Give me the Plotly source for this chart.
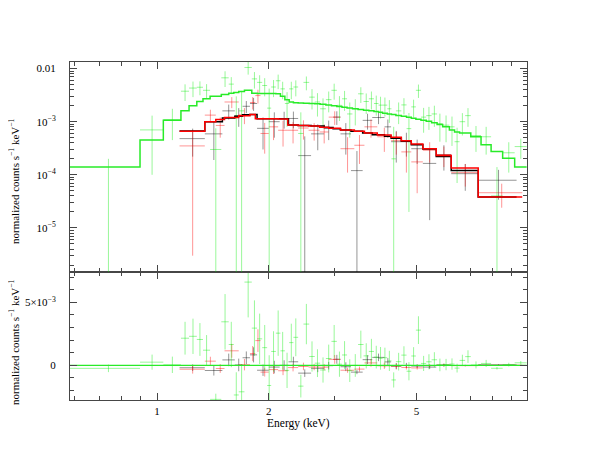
import numpy as np
import plotly.graph_objects as go

# green data set: bin edges (keV), counts, 1-sigma errors and folded model
green_edges = [0.58, 0.90, 1.04, 1.16, 1.22, 1.28, 1.33, 1.39, 1.49, 1.56, 1.61, 1.66, 1.72, 1.80,
               1.86, 1.92, 1.98, 2.03, 2.09, 2.15, 2.21, 2.27, 2.33, 2.40, 2.48, 2.57, 2.66, 2.75,
               2.85, 2.95, 3.05, 3.15, 3.25, 3.36, 3.48, 3.60, 3.72, 3.84, 3.95, 4.05, 4.17, 4.28,
               4.40, 4.55, 4.70, 4.84, 4.98, 5.14, 5.31, 5.49, 5.68, 5.88, 6.13, 6.33, 6.53, 6.76,
               7.00, 7.46, 7.94, 8.53, 9.19, 9.90]
green_y = [-1.0e-4, 7.0e-4, 1.1e-3, 3.75e-3, 4.3e-3, 4.45e-3, 3.9e-3, 3.0e-4, 6.7e-3, 5.1e-3,
           1.2e-3, 1.6e-3, 1.05e-2, 6.4e-3, 5.5e-3, 4.8e-3, 1.8e-3, 4.5e-3, 5.9e-3, 4.15e-3,
           2.2e-3, 4.15e-3, 4.5e-3, 6.0e-4, 5.5e-3, 2.9e-3, 2.35e-3, 1.75e-3, 2.6e-3, 3.9e-3,
           2.03e-3, 2.7e-3, 1.4e-3, 1.75e-3, 3.35e-3, 2.4e-3, 2.7e-3, 2.2e-3, 2.05e-3, 2.05e-3,
           1.75e-3, 2.0e-4, 1.6e-3, 2.07e-3, 7.4e-4, 1.9e-3, 3.9e-3, 1.22e-3, 1.3e-3, 1.4e-3,
           9.2e-4, 8.6e-4, 8.0e-4, 4.2e-4, 1.0e-3, 1.3e-3, 5.5e-4, 5.2e-4, 4.0e-5, 2.6e-4, 3.4e-4]
green_err = [3.0e-4, 6.0e-4, 6.5e-4, 1.3e-3, 1.4e-3, 1.3e-3, 1.2e-3, 4.5e-4, 2.2e-3, 1.8e-3,
             1.8e-3, 2.2e-3, 2.8e-3, 2.2e-3, 2.0e-3, 1.8e-3, 2.4e-3, 1.6e-3, 1.8e-3, 1.5e-3,
             1.4e-3, 1.5e-3, 1.5e-3, 9.0e-4, 1.6e-3, 1.2e-3, 1.1e-3, 1.0e-3, 1.1e-3, 1.3e-3,
             1.0e-3, 1.1e-3, 9.0e-4, 9.0e-4, 1.1e-3, 1.0e-3, 1.0e-3, 9.0e-4, 9.0e-4, 8.0e-4,
             8.0e-4, 6.0e-4, 7.0e-4, 7.0e-4, 7.2e-4, 7.0e-4, 1.1e-3, 6.0e-4, 6.0e-4, 6.0e-4,
             5.0e-4, 4.5e-4, 4.5e-4, 3.5e-4, 4.5e-4, 5.0e-4, 2.8e-4, 2.8e-4, 1.0e-4, 1.5e-4, 1.4e-4]
green_model = [1.4e-4, 4.5e-4, 1.06e-3, 1.6e-3, 2.0e-3, 2.4e-3, 2.7e-3, 3.0e-3, 3.25e-3, 3.45e-3,
               3.55e-3, 3.7e-3, 3.9e-3, 3.45e-3, 3.4e-3, 3.4e-3, 3.4e-3, 3.4e-3, 3.35e-3, 3.0e-3,
               2.6e-3, 2.35e-3, 2.28e-3, 2.25e-3, 2.23e-3, 2.2e-3, 2.18e-3, 2.12e-3, 2.06e-3, 2.0e-3,
               1.94e-3, 1.88e-3, 1.82e-3, 1.76e-3, 1.70e-3, 1.65e-3, 1.6e-3, 1.55e-3, 1.5e-3, 1.45e-3,
               1.4e-3, 1.36e-3, 1.31e-3, 1.26e-3, 1.21e-3, 1.16e-3, 1.11e-3, 1.07e-3, 1.02e-3, 9.6e-4,
               8.9e-4, 8.0e-4, 7.0e-4, 6.4e-4, 6.1e-4, 6.1e-4, 5.2e-4, 3.7e-4, 2.75e-4, 2.05e-4, 1.4e-4]

# black data set
black_edges = [1.15, 1.345, 1.50, 1.62, 1.70, 1.78, 1.86, 2.00, 2.14, 2.26, 2.40, 2.60, 2.82, 2.98,
               3.12, 3.33, 3.58, 3.80, 4.10, 4.27, 4.55, 4.84, 5.20, 5.65, 6.20, 7.33, 9.30]
black_y = [4.8e-4, 5.9e-4, 1.6e-3, 1.3e-3, 1.95e-3, 2.2e-3, 7.5e-4, 1.0e-3, 1.14e-3, 1.15e-3,
           2.3e-4, 5.9e-4, 7.5e-4, 1.22e-3, 5.9e-4, 1.2e-4, 1.06e-3, 1.2e-3, 8.0e-4, 4.2e-4,
           4.2e-4, 3.1e-4, 1.64e-4, 2.4e-4, 1.05e-4, 7.9e-5]
black_err = [2.6e-4, 4.0e-4, 5.0e-4, 5.0e-4, 5.0e-4, 6.0e-4, 4.5e-4, 5.0e-4, 4.0e-4, 4.0e-4,
             3.0e-4, 3.0e-4, 3.0e-4, 3.5e-4, 3.5e-4, 1.6e-4, 3.5e-4, 3.0e-4, 3.0e-4, 2.5e-4,
             2.0e-4, 1.5e-4, 1.5e-4, 1.2e-4, 5.5e-5, 4.5e-5]
black_model = [6.7e-4, 1.0e-3, 1.17e-3, 1.27e-3, 1.35e-3, 1.37e-3, 1.14e-3, 1.14e-3, 1.14e-3, 8.7e-4,
               8.5e-4, 8.3e-4, 7.8e-4, 7.4e-4, 7.0e-4, 6.6e-4, 6.1e-4, 5.7e-4, 5.3e-4, 4.9e-4,
               4.3e-4, 3.7e-4, 3.05e-4, 2.2e-4, 1.2e-4, 3.8e-5]

# red data set
red_edges = [1.15, 1.345, 1.44, 1.52, 1.66, 1.78, 1.84, 1.90, 2.00, 2.12, 2.25, 2.40, 2.56, 2.74,
             2.90, 3.12, 3.40, 3.62, 3.92, 4.27, 4.55, 4.84, 5.20, 5.65, 6.20, 7.33, 9.63]
red_y = [3.5e-4, 1.33e-3, 8.5e-4, 2.35e-3, 1.35e-3, 2.3e-3, 3.1e-3, 6.0e-4, 8.0e-4, 6.9e-4,
         6.9e-4, 7.6e-4, 6.9e-4, 6.4e-4, 1.22e-3, 3.1e-4, 3.6e-4, 8.0e-4, 5.2e-4, 4.4e-4,
         2.7e-4, 1.75e-4, 2.9e-4, 2.4e-4, 1.1e-4, 4.6e-5]
red_err = [3.47e-4, 3.5e-4, 3.5e-4, 5.5e-4, 4.5e-4, 6.0e-4, 9.0e-4, 3.5e-4, 3.5e-4, 3.5e-4,
           3.0e-4, 3.0e-4, 2.5e-4, 2.5e-4, 3.5e-4, 2.0e-4, 2.0e-4, 3.0e-4, 2.5e-4, 2.0e-4,
           1.6e-4, 1.3e-4, 1.2e-4, 1.0e-4, 5.0e-5, 2.2e-5]
red_model = [6.6e-4, 1.0e-3, 1.1e-3, 1.2e-3, 1.3e-3, 1.37e-3, 1.14e-3, 1.14e-3, 1.14e-3, 1.12e-3,
             8.7e-4, 8.5e-4, 8.3e-4, 7.9e-4, 7.5e-4, 7.0e-4, 6.6e-4, 6.1e-4, 5.6e-4, 5.1e-4,
             4.4e-4, 3.8e-4, 3.1e-4, 2.3e-4, 1.34e-4, 3.8e-5]

x_labels = ['1', '2', '5']
x_major = [1, 2, 5]
x_minor = [0.6, 0.7, 0.8, 0.9, 3, 4, 6, 7, 8, 9]
ytop_major = [1e-5, 1e-4, 1e-3, 1e-2]
ytop_labels = ['10<sup>\u22125</sup>', '10<sup>\u22124</sup>', '10<sup>\u22123</sup>', '0.01']
yres_major = [0, 5e-3]
yres_labels = ['0', '5\u00d710<sup>\u22123</sup>']
yres_minor = [-2e-3, -1e-3, 1e-3, 2e-3, 3e-3, 4e-3, 6e-3, 7e-3]

FONT = 'Liberation Serif'
AXC = 'rgb(70,70,70)'
YTITLE = 'normalized counts s<sup>\u22121</sup> keV<sup>\u22121</sup>'


def crosses(edges, y, err, floor=None):
    xs, ys = [], []
    for i in range(len(y)):
        lo, hi = edges[i], edges[i + 1]
        c = 0.5 * (lo + hi)
        if floor is None or y[i] > 0:
            xs += [lo, hi, None]
            ys += [y[i], y[i], None]
        bot = y[i] - err[i]
        if floor is not None:
            bot = max(bot, floor)
        xs += [c, c, None]
        ys += [bot, y[i] + err[i], None]
    return xs, ys


def step(edges, vals):
    return list(edges), list(vals) + [vals[-1]]


sets = [
    (black_edges, black_y, black_err, black_model, 'rgba(0,0,0,0.42)', 'rgb(0,0,0)'),
    (red_edges, red_y, red_err, red_model, 'rgba(255,0,0,0.42)', 'rgb(255,0,0)'),
    (green_edges, green_y, green_err, green_model, 'rgba(0,235,0,0.40)', 'rgb(40,235,40)'),
]

fig = go.Figure()

# data crosses, top panel and residuals
for edges, y, err, model, dcol, mcol in sets:
    xs, ys = crosses(edges, y, err, floor=1e-8)
    fig.add_trace(go.Scatter(x=xs, y=ys, mode='lines', line=dict(color=dcol, width=1),
                             xaxis='x2', yaxis='y2', hoverinfo='skip'))
    res = [a - b for a, b in zip(y, model)]
    xs, ys = crosses(edges, res, err)
    fig.add_trace(go.Scatter(x=xs, y=ys, mode='lines', line=dict(color=dcol, width=1),
                             xaxis='x', yaxis='y', hoverinfo='skip'))

# folded models
for edges, y, err, model, dcol, mcol in sets:
    sx, sy = step(edges, model)
    fig.add_trace(go.Scatter(x=sx, y=sy, mode='lines', line=dict(color=mcol, width=1.5, shape='hv'),
                             xaxis='x2', yaxis='y2', hoverinfo='skip'))

# zero line in residual panel
zx, zy = step(green_edges, [0.0 for _ in green_y])
fig.add_trace(go.Scatter(x=zx, y=zy, mode='lines', line=dict(color='rgb(40,235,40)', width=1.2, shape='hv'),
                         xaxis='x', yaxis='y', hoverinfo='skip'))

xrange = [np.log10(0.583), np.log10(9.92)]
ytop_minor = [m * 10.0 ** e for e in range(-6, -1) for m in range(2, 10)]

common = dict(showline=True, linecolor=AXC, linewidth=1, mirror='allticks', ticks='inside',
              tickcolor=AXC, tickwidth=1, showgrid=False, zeroline=False, automargin=False,
              tickfont=dict(family=FONT, size=11, color='black'))

# the page body adds an 8px offset, so the figure is 8px smaller than the window
fig.update_layout(
    width=590, height=454,
    margin=dict(l=62, r=71, t=54, b=62),
    paper_bgcolor='white', plot_bgcolor='white',
    showlegend=False,
    font=dict(family=FONT, size=11, color='black'),
    xaxis=dict(type='log', range=xrange, anchor='y', tickmode='array', tickvals=x_major, ticktext=x_labels,
               ticklen=7, minor=dict(tickvals=x_minor, ticks='inside', ticklen=4, tickcolor=AXC),
               ticklabelstandoff=1, **common),
    xaxis2=dict(type='log', range=xrange, anchor='y2', matches='x', tickmode='array', tickvals=x_major,
                showticklabels=False, ticklen=7,
                minor=dict(tickvals=x_minor, ticks='inside', ticklen=4, tickcolor=AXC), **common),
    yaxis=dict(domain=[0, 0.3787], range=[-2.75e-3, 7.4e-3], anchor='x', tickmode='array',
               tickvals=yres_major, ticktext=yres_labels, ticklen=7,
               minor=dict(tickvals=yres_minor, ticks='inside', ticklen=4, tickcolor=AXC),
               ticklabelstandoff=11, **common),
    yaxis2=dict(domain=[0.3787, 1], type='log', range=[-5.83, -1.876], anchor='x2', tickmode='array',
                tickvals=ytop_major, ticktext=ytop_labels, ticklen=7,
                minor=dict(tickvals=ytop_minor, ticks='inside', ticklen=4, tickcolor=AXC),
                ticklabelstandoff=11, **common),
    annotations=[
        dict(text=YTITLE, xref='paper', yref='paper', x=-0.1225, y=0.648, textangle=-90,
             showarrow=False, xanchor='center', yanchor='middle', font=dict(family=FONT, size=11)),
        dict(text=YTITLE, xref='paper', yref='paper', x=-0.1225, y=0.1716, textangle=-90,
             showarrow=False, xanchor='center', yanchor='middle', font=dict(family=FONT, size=11)),
        dict(text='Energy (keV)', xref='paper', yref='paper', x=0.5, y=-0.0695,
             showarrow=False, xanchor='center', yanchor='middle', font=dict(family=FONT, size=11.5)),
    ],
)

fig.write_html("out.html")
